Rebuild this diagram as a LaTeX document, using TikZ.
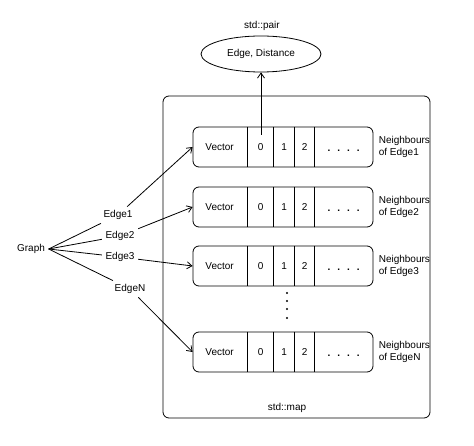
\documentclass[tikz,border=0pt]{standalone}
\usepackage{fontspec}
\setmainfont{Liberation Sans}
\usetikzlibrary{arrows.meta, shapes.geometric}

\begin{document}
\begin{tikzpicture}[x=1pt,y=-1pt,
    line width=0.8pt,
    every node/.style={font=\fontsize{10}{12}\selectfont},
    vecrow/.style={draw, rounded corners=6pt, minimum width=180pt, minimum height=40pt, inner sep=0pt},
    arr/.style={-{Straight Barb[length=5pt,width=7pt]}}
]
    \useasboundingbox (0,0) rectangle (474,446);

    % the map
    \node[draw, rounded corners=6pt, minimum width=267pt, minimum height=322pt, inner sep=0pt] (map) at (296.5,257) {};
    \node (maplabel) at (287,408) {std::map};

    % the pair
    \node[draw, ellipse, minimum width=120pt, minimum height=36pt, inner sep=0pt] (pair) at (261,54) {Edge, Distance};
    \node (pairlabel) at (262,26) {std::pair};

    % vectors of neighbours
    \foreach \i/\y/\e in {1/147/Edge1, 2/207/Edge2, 3/266/Edge3, N/352/EdgeN} {
        \node[vecrow] (row\i) at (283,\y) {};
        \foreach \d in {55,81,102,122}
            \draw ([xshift=\d pt]row\i.north west) -- ([xshift=\d pt]row\i.south west);
        \node (vec\i) at ([xshift=27pt]row\i.west) {Vector};
        \node (zero\i) at ([xshift=68pt]row\i.west) {0};
        \node (one\i) at ([xshift=91.5pt]row\i.west) {1};
        \node (two\i) at ([xshift=112pt]row\i.west) {2};
        \node (dots\i) at ([xshift=151pt,yshift=-4pt]row\i.west) {\textbf{.\hspace{7pt}.\hspace{7pt}.\hspace{7pt}.}};
        \node[anchor=west, align=left, inner sep=0pt] (nb\i) at ([xshift=5pt]row\i.east) {Neighbours\\of \e};
    }

    % dots between rows
    \foreach \y in {293,301,309,318}
        \fill (287,\y) circle (1.2pt);

    % first element points to the pair
    \coordinate (first) at (261,135);
    \draw[arr] (first) -- (pair.south);

    % graph and its edges
    \node (graph) at (31,249) {Graph};
    \node (e1) at (118,215) {Edge1};
    \node (e2) at (120,236) {Edge2};
    \node (e3) at (120,257) {Edge3};
    \node (eN) at (130,289) {EdgeN};

    \draw (graph.east) -- (e1);
    \draw (graph.east) -- (e2);
    \draw (graph.east) -- (e3);
    \draw (graph.east) -- (eN);

    \draw[arr] (e1) -- (row1.west);
    \draw[arr] (e2) -- (row2.west);
    \draw[arr] (e3) -- (row3.west);
    \draw[arr] (eN) -- (rowN.west);
\end{tikzpicture}
\end{document}
